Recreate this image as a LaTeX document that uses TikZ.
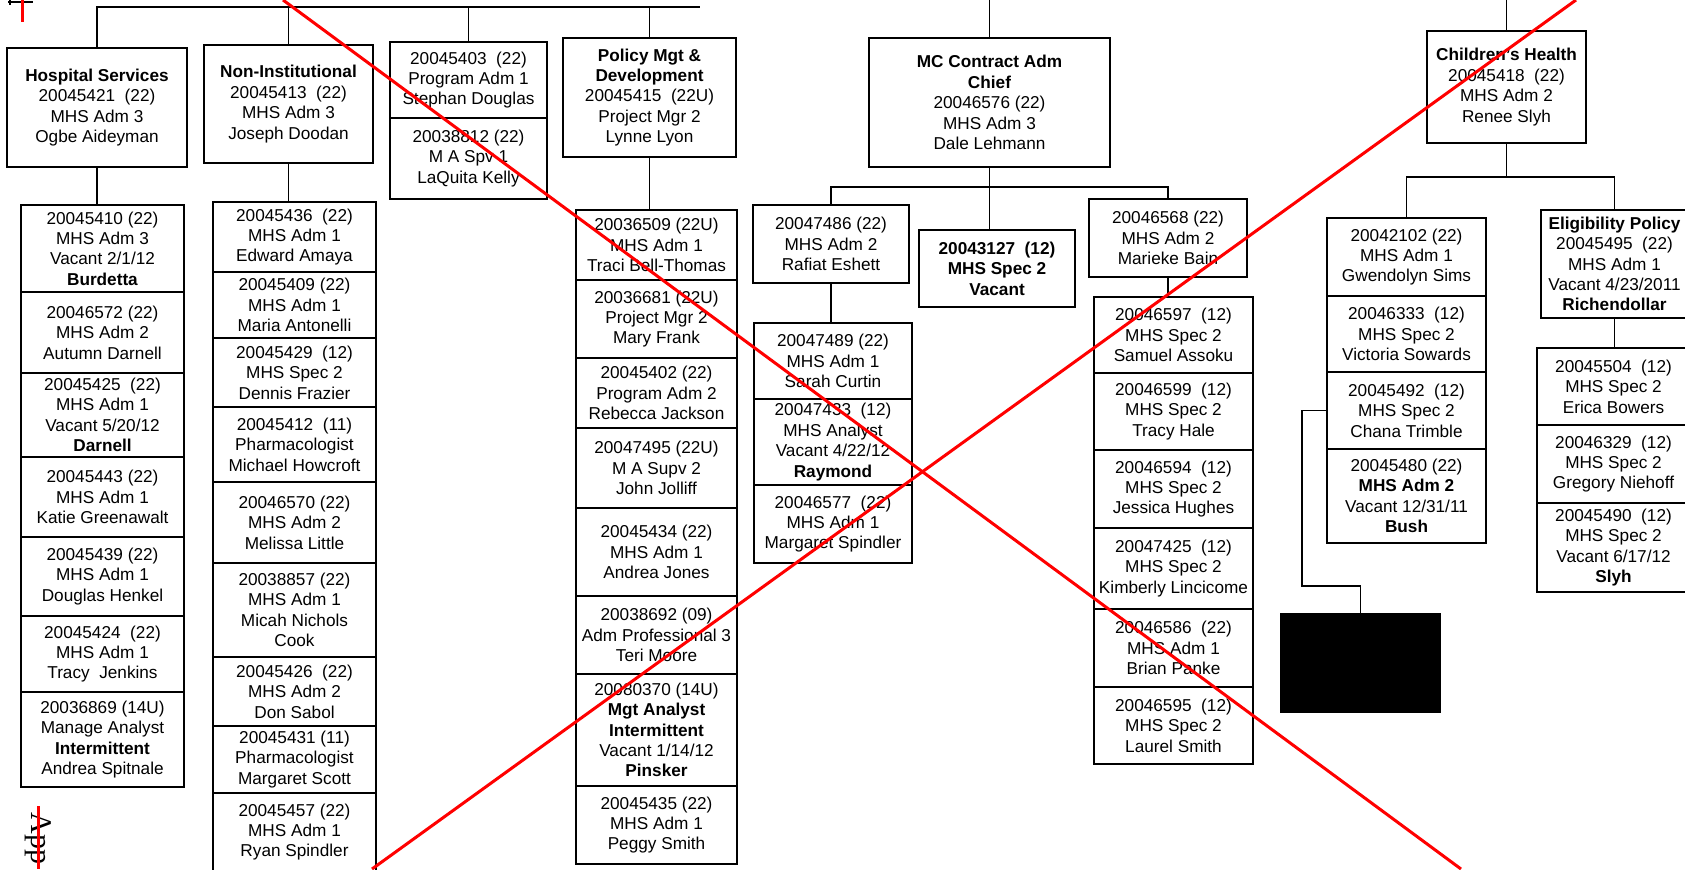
\documentclass[tikz,border=0pt]{standalone}
\usepackage{fontspec}
\setmainfont{Liberation Sans}
\newfontfamily\appfont{Liberation Serif}
\tikzset{
  box/.style={draw=black, line width=0.6pt, rectangle, inner sep=0pt, align=center,
    font=\fontsize{8.6}{10.2}\selectfont, text=black},
  conn/.style={draw=black, line width=0.6pt},
  redx/.style={draw=red, line width=1.5pt},
  heavy/.style={line width=1.1pt},
}
\newcommand\orgbox[7][]{\node[box,minimum width={(#5-#3)*0.5pt},minimum height={(#6-#4)*0.5pt},#1] (#2) at ({(#3+#5)/2},{(#4+#6)/2}) {#7};}
\begin{document}
\begin{tikzpicture}[x=0.5pt,y=-0.5pt]
\useasboundingbox (0,0) rectangle (1685,869);
\clip (0,0) rectangle (1685,869);
% ---- column 1
\orgbox{hs}{7}{48}{187}{167}{\textbf{Hospital Services}\\20045421~~(22)\\MHS Adm 3\\Ogbe Aideyman}
\orgbox{sa}{21}{205}{184}{292}{20045410 (22)\\MHS Adm 3\\Vacant 2/1/12\\\textbf{Burdetta}}
\orgbox{sb}{21}{292}{184}{373}{20046572 (22)\\MHS Adm 2\\Autumn Darnell}
\orgbox{sc}{21}{373}{184}{457}{20045425~~(22)\\MHS Adm 1\\Vacant 5/20/12\\\textbf{Darnell}}
\orgbox{sd}{21}{457}{184}{537}{20045443 (22)\\MHS Adm 1\\Katie Greenawalt}
\orgbox{se}{21}{537}{184}{616}{20045439 (22)\\MHS Adm 1\\Douglas Henkel}
\orgbox{sf}{21}{616}{184}{692}{20045424~~(22)\\MHS Adm 1\\Tracy~~Jenkins}
\orgbox{sg}{21}{692}{184}{787}{20036869 (14U)\\Manage Analyst\\\textbf{Intermittent}\\Andrea Spitnale}
% ---- column 2
\orgbox{ni}{204}{45}{373}{163}{\textbf{Non-Institutional}\\20045413~~(22)\\MHS Adm 3\\Joseph Doodan}
\orgbox{na}{213}{202}{376}{272}{20045436~~(22)\\MHS Adm 1\\Edward Amaya}
\orgbox{nb}{213}{272}{376}{338}{20045409 (22)\\MHS Adm 1\\Maria Antonelli}
\orgbox{nc}{213}{338}{376}{407}{20045429~~(12)\\MHS Spec 2\\Dennis Frazier}
\orgbox{nd}{213}{407}{376}{482}{20045412~~(11)\\Pharmacologist\\Michael Howcroft}
\orgbox{ne}{213}{482}{376}{563}{20046570 (22)\\MHS Adm 2\\Melissa Little}
\orgbox{nf}{213}{563}{376}{657}{20038857 (22)\\MHS Adm 1\\Micah Nichols\\Cook}
\orgbox{ng}{213}{657}{376}{726}{20045426~~(22)\\MHS Adm 2\\Don Sabol}
\orgbox{nh}{213}{726}{376}{793}{20045431 (11)\\Pharmacologist\\Margaret Scott}
\orgbox{nk}{213}{793}{376}{871}{20045457 (22)\\MHS Adm 1\\Ryan Spindler}
% ---- column 3
\orgbox{ca}{390}{42}{547}{118}{20045403~~(22)\\Program Adm 1\\Stephan Douglas}
\orgbox{cb}{390}{118}{547}{199}{20038812 (22)\\M A Spv 1\\LaQuita Kelly}
% ---- column 4
\orgbox{pol}{563}{38}{736}{157}{\textbf{Policy Mgt \&}\\\textbf{Development}\\20045415~~(22U)\\Project Mgr 2\\Lynne Lyon}
\orgbox{pa}{576}{210}{737}{280}{20036509 (22U)\\MHS Adm 1\\Traci Bell-Thomas}
\orgbox{pb}{576}{280}{737}{358}{20036681 (22U)\\Project Mgr 2\\Mary Frank}
\orgbox{pc}{576}{358}{737}{428}{20045402 (22)\\Program Adm 2\\Rebecca Jackson}
\orgbox{pd}{576}{428}{737}{508}{20047495 (22U)\\M A Supv 2\\John Jolliff}
\orgbox{pe}{576}{508}{737}{596}{20045434 (22)\\MHS Adm 1\\Andrea Jones}
\orgbox[heavy]{pf}{576}{596}{737}{674}{20038692 (09)\\Adm Professional 3\\Teri Moore}
\orgbox{pg}{576}{674}{737}{786}{20080370 (14U)\\\textbf{Mgt Analyst}\\\textbf{Intermittent}\\Vacant 1/14/12\\\textbf{Pinsker}}
\orgbox{ph}{576}{786}{737}{864}{20045435 (22)\\MHS Adm 1\\Peggy Smith}
% ---- column 5
\orgbox{mc}{869}{38}{1110}{167}{\textbf{MC Contract Adm}\\\textbf{Chief}\\20046576 (22)\\MHS Adm 3\\Dale Lehmann}
\orgbox{raf}{753}{205}{909}{283}{20047486 (22)\\MHS Adm 2\\Rafiat Eshett}
\orgbox{vac}{919}{230}{1075}{307}{\textbf{20043127~~(12)}\\\textbf{MHS Spec 2}\\\textbf{Vacant}}
\orgbox{mar}{1089}{199}{1247}{277}{20046568 (22)\\MHS Adm 2\\Marieke Bain}
\orgbox{ra}{754}{323}{912}{399}{20047489 (22)\\MHS Adm 1\\Sarah Curtin}
\orgbox{rb}{754}{399}{912}{485}{20047433~~(12)\\MHS Analyst\\Vacant 4/22/12\\\textbf{Raymond}}
\orgbox{rc}{754}{485}{912}{563}{20046577~~(22)\\MHS Adm 1\\Margaret Spindler}
\orgbox{ma}{1094}{297}{1253}{373}{20046597~~(12)\\MHS Spec 2\\Samuel Assoku}
\orgbox{mb}{1094}{373}{1253}{450}{20046599~~(12)\\MHS Spec 2\\Tracy Hale}
\orgbox{mcc}{1094}{450}{1253}{528}{20046594~~(12)\\MHS Spec 2\\Jessica Hughes}
\orgbox{md}{1094}{528}{1253}{609}{20047425~~(12)\\MHS Spec 2\\Kimberly Lincicome}
\orgbox{me}{1094}{609}{1253}{687}{20046586~~(22)\\MHS Adm 1\\Brian Panke}
\orgbox{mf}{1094}{687}{1253}{764}{20046595~~(12)\\MHS Spec 2\\Laurel Smith}
% ---- column 6
\orgbox{ch}{1427}{31}{1586}{143}{\textbf{Children's Health}\\20045418~~(22)\\MHS Adm 2\\Renee Slyh}
\orgbox{ga}{1327}{218}{1486}{296}{20042102 (22)\\MHS Adm 1\\Gwendolyn Sims}
\orgbox{gb}{1327}{296}{1486}{372}{20046333~~(12)\\MHS Spec 2\\Victoria Sowards}
\orgbox{gc}{1327}{372}{1486}{449}{20045492~~(12)\\MHS Spec 2\\Chana Trimble}
\orgbox{gd}{1327}{449}{1486}{543}{20045480 (22)\\\textbf{MHS Adm 2}\\Vacant 12/31/11\\\textbf{Bush}}
\orgbox{el}{1541}{210}{1688}{318}{\textbf{Eligibility Policy}\\20045495~~(22)\\MHS Adm 1\\Vacant 4/23/2011\\\textbf{Richendollar}}
\orgbox{ea}{1537}{348}{1690}{425}{20045504~~(12)\\MHS Spec 2\\Erica Bowers}
\orgbox{eb}{1537}{425}{1690}{503}{20046329~~(12)\\MHS Spec 2\\Gregory Niehoff}
\orgbox{ec}{1537}{503}{1690}{592}{20045490~~(12)\\MHS Spec 2\\Vacant 6/17/12\\\textbf{Slyh}}
\orgbox[fill=black]{blk}{1281}{614}{1440}{712}{}
% ---- connectors
\coordinate (topbus) at (0,7);
\coordinate (busend) at (700,7);
\coordinate (edge) at (0,0);
\coordinate (mcbus) at (0,187);
\coordinate (chbus) at (0,177);
\coordinate (jog) at (1302,586);
\draw[conn] (hs.north) -- (hs.north |- topbus) -- (busend);
\draw[conn] (ni.north) -- (ni.north |- topbus);
\draw[conn] (ca.north) -- (ca.north |- topbus);
\draw[conn] (pol.north) -- (pol.north |- topbus);
\draw[conn] (mc.north) -- (mc.north |- edge);
\draw[conn] (ch.north) -- (ch.north |- edge);
\draw[conn] (hs.south) -- (hs.south |- sa.north);
\draw[conn] (ni.south) -- (ni.south |- na.north);
\draw[conn] (pol.south) -- (pol.south |- pa.north);
\draw[conn] (mc.south) -- (mc.south |- vac.north);
\draw[conn] (raf.north) -- (raf.north |- mcbus) -- (mar.north |- mcbus) -- (mar.north);
\draw[conn] (raf.south) -- (raf.south |- ra.north);
\draw[conn] (mar.south) -- (mar.south |- ma.north);
\draw[conn] (ch.south) -- (ch.south |- chbus);
\draw[conn] (ga.north) -- (ga.north |- chbus) -- (el.north |- chbus) -- (el.north);
\draw[conn] (el.south) -- (el.south |- ea.north);
\draw[conn] (gc.west) -| (jog) -| (blk.north);
% ---- page marks
\draw[conn] (8,2) -- (33,2);
\draw[conn] (10,0) -- (10,5);
\node[rotate=-90, anchor=west, inner sep=0pt, font=\appfont\fontsize{15}{15}\selectfont] (app) at (38,812) {App};
% ---- red cross-out
\draw[redx] (22,0) -- (22,22);
\draw[redx] (38,806) -- (38,869);
\draw[redx] (283,0) -- (1461,869);
\draw[redx] (1576,0) -- (372,869);
\end{tikzpicture}
\end{document}
